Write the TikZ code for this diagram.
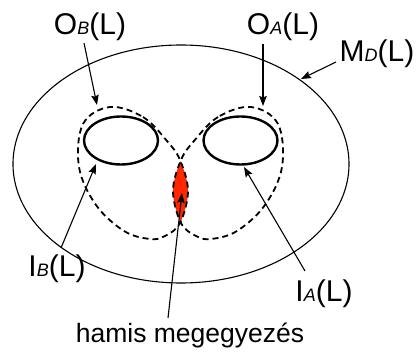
\documentclass[tikz,border=0pt]{standalone}
\usepackage{fontspec}
\setmainfont{Liberation Sans}
\usetikzlibrary{arrows.meta}
\newcommand\lsub[1]{{\fontsize{18}{18}\selectfont\itshape #1}}
\definecolor{lensred}{RGB}{255,38,0}
\begin{document}
\begin{tikzpicture}[x=1pt,y=-1pt,
  lbl/.style={font=\fontsize{30}{30}\selectfont, anchor=base, inner sep=0pt},
  arr/.style={line width=1.1pt, -{Stealth[length=10pt,width=7.5pt,inset=1.5pt]}},
  innerell/.style={line width=2.4pt},
  dashloop/.style={line width=1.8pt, dash pattern=on 6pt off 4pt},
  outerell/.style={line width=1.1pt}]
\useasboundingbox (0,0) rectangle (418,352);
\def\leftloop{plot[smooth cycle, tension=0.6] coordinates {(110,107) (143,117) (167,141) (180,160) (188,191) (180,223) (165,236) (150,239) (124,231) (96,205) (79,167) (83,124)}}
\def\rightloop{plot[smooth cycle, tension=0.6] coordinates {(251,107) (218,117) (194,141) (181,160) (173,191) (181,223) (196,236) (211,239) (237,231) (265,205) (282,167) (278,124)}}
% red lens
\begin{scope}
  \clip \leftloop;
  \fill[lensred] \rightloop;
\end{scope}
% outer
\draw[outerell] (181,164) ellipse [x radius=168pt, y radius=119pt];
% inner
\draw[innerell] (121,140.5) ellipse [x radius=37pt, y radius=24pt];
\draw[innerell] (240.5,140.5) ellipse [x radius=37pt, y radius=24pt];
% dashed loops
\draw[dashloop] \leftloop;
\draw[dashloop] \rightloop;
% labels
\node[lbl] (ob) at (90,35) {O\lsub{B}(L)};
\node[lbl] (oa) at (283,35) {O\lsub{A}(L)};
\node[lbl] (md) at (377,62) {M\lsub{D}(L)};
\node[lbl] (ib) at (57,277) {I\lsub{B}(L)};
\node[lbl] (ia) at (324,302) {I\lsub{A}(L)};
\node[font=\fontsize{26.5}{26.5}\selectfont, anchor=base, inner sep=0pt] (hm) at (190,343) {hamis megegyezés};
% arrow ends
\coordinate (obs) at (84,43);   \coordinate (obt) at (97,105);
\coordinate (oas) at (263,44);  \coordinate (oat) at (263,106);
\coordinate (mds) at (336,62);  \coordinate (mdt) at (301,79);
\coordinate (ibs) at (61,248);  \coordinate (ibt) at (96,164);
\coordinate (ias) at (305,271); \coordinate (iat) at (244,167);
\coordinate (hms) at (168,318); \coordinate (hmt) at (182,193);
\draw[arr] (obs) -- (obt);
\draw[arr] (oas) -- (oat);
\draw[arr] (mds) -- (mdt);
\draw[arr] (ibs) -- (ibt);
\draw[arr] (ias) -- (iat);
\draw[arr] (hms) -- (hmt);
\end{tikzpicture}
\end{document}
